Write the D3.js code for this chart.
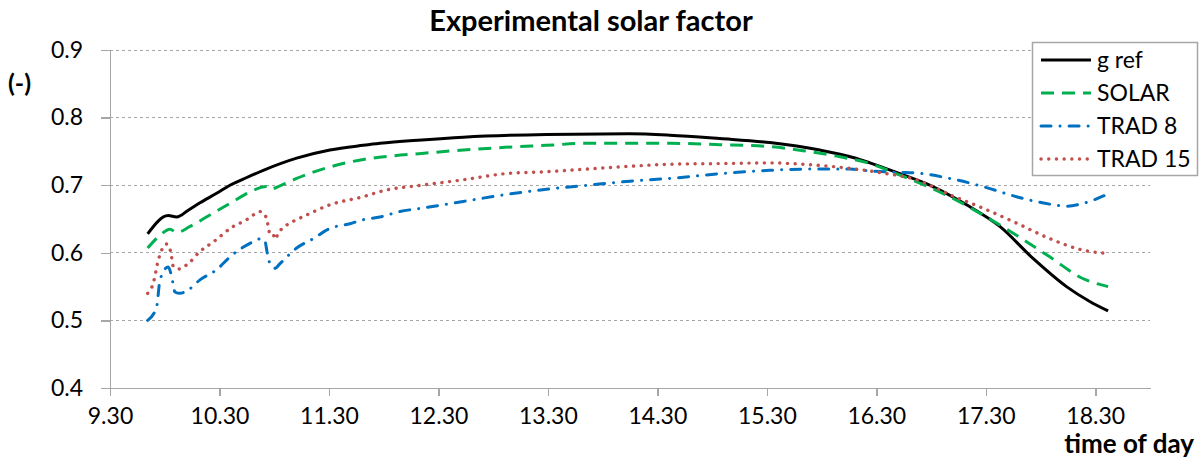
<!DOCTYPE html>
<html>
<head>
<meta charset="utf-8">
<script src="https://cdn.jsdelivr.net/npm/d3@7"></script>
<style>
  body { margin: 0; background: #fff; }
  svg { display: block; font-family: Lato, "Open Sans", sans-serif; }
</style>
</head>
<body>
<div id="chart"></div>
<script>
// Experimental solar factor - line chart
// times are decimal hours (9.5 = 9:30)
const xTicks = [9.5, 10.5, 11.5, 12.5, 13.5, 14.5, 15.5, 16.5, 17.5, 18.5];
const xTickLabels = ["9.30", "10.30", "11.30", "12.30", "13.30", "14.30", "15.30", "16.30", "17.30", "18.30"];
const yTicks = [0.4, 0.5, 0.6, 0.7, 0.8, 0.9];

const gRef = [
    [9.844, 0.628], [10.032, 0.655], [10.109, 0.653], [10.215, 0.663], [10.322, 0.674],
    [10.474, 0.688], [10.596, 0.700], [10.717, 0.709], [10.900, 0.722], [11.205, 0.740],
    [11.509, 0.752], [11.813, 0.759], [11.966, 0.762], [12.347, 0.767], [12.727, 0.771],
    [13.488, 0.775], [14.249, 0.776], [14.614, 0.774], [15.071, 0.769], [15.527, 0.763],
    [15.984, 0.752], [16.288, 0.741], [16.441, 0.733], [16.715, 0.717], [17.016, 0.698],
    [17.324, 0.671], [17.628, 0.639], [17.929, 0.592], [18.237, 0.550], [18.450, 0.528],
    [18.617, 0.514]
];
const solar = [
    [9.844, 0.607], [9.957, 0.626], [10.048, 0.635], [10.109, 0.630], [10.231, 0.639],
    [10.413, 0.656], [10.626, 0.676], [10.779, 0.690], [10.931, 0.698], [10.961, 0.694],
    [11.053, 0.699], [11.205, 0.710], [11.509, 0.727], [11.813, 0.738], [12.057, 0.743],
    [12.347, 0.747], [12.727, 0.752], [13.107, 0.756], [13.488, 0.759], [13.868, 0.762],
    [14.249, 0.762], [14.614, 0.762], [15.071, 0.760], [15.527, 0.757], [15.832, 0.751],
    [16.137, 0.743], [16.441, 0.732], [16.715, 0.715], [17.171, 0.683], [17.473, 0.656],
    [17.780, 0.626], [18.084, 0.594], [18.386, 0.562], [18.617, 0.550]
];
const trad8 = [
    [9.844, 0.500], [9.926, 0.520], [9.957, 0.560], [10.032, 0.579], [10.063, 0.565],
    [10.094, 0.542], [10.139, 0.540], [10.215, 0.545], [10.322, 0.560], [10.474, 0.575],
    [10.596, 0.594], [10.779, 0.614], [10.885, 0.621], [10.916, 0.617], [10.937, 0.599],
    [10.961, 0.584], [11.007, 0.577], [11.053, 0.584], [11.205, 0.607], [11.357, 0.621],
    [11.509, 0.636], [11.692, 0.643], [11.813, 0.649], [11.966, 0.653], [12.148, 0.661],
    [12.347, 0.666], [12.727, 0.676], [13.107, 0.686], [13.488, 0.694], [13.868, 0.700],
    [14.249, 0.706], [14.614, 0.710], [15.071, 0.717], [15.527, 0.722], [15.984, 0.724],
    [16.258, 0.724], [16.441, 0.721], [16.715, 0.719], [16.867, 0.718], [17.171, 0.710],
    [17.473, 0.698], [17.780, 0.683], [18.084, 0.672], [18.237, 0.669], [18.386, 0.673],
    [18.617, 0.687]
];
const trad15 = [
    [9.844, 0.540], [9.895, 0.555], [9.941, 0.589], [9.972, 0.604], [10.018, 0.613],
    [10.054, 0.602], [10.078, 0.580], [10.124, 0.576], [10.215, 0.584], [10.322, 0.602],
    [10.443, 0.616], [10.626, 0.639], [10.748, 0.649], [10.809, 0.656], [10.870, 0.661],
    [10.916, 0.656], [10.946, 0.639], [10.961, 0.627], [10.991, 0.627], [11.007, 0.620],
    [11.037, 0.629], [11.114, 0.641], [11.205, 0.649], [11.296, 0.656], [11.509, 0.671],
    [11.813, 0.683], [12.000, 0.692], [12.347, 0.700], [12.727, 0.708], [13.107, 0.717],
    [13.488, 0.720], [13.868, 0.724], [14.249, 0.728], [14.614, 0.731], [15.071, 0.732],
    [15.527, 0.733], [15.832, 0.731], [16.137, 0.727], [16.441, 0.721], [16.559, 0.718],
    [16.867, 0.708], [17.171, 0.686], [17.473, 0.666], [17.780, 0.644], [18.084, 0.621],
    [18.386, 0.604], [18.617, 0.599]
];

const seriesNames = ["g ref", "SOLAR", "TRAD 8", "TRAD 15"];
const seriesData = [gRef, solar, trad8, trad15];

const styles = [
    { color: "#000000", width: 3, dash: null, cap: "butt" },
    { color: "#00b050", width: 3, dash: "13,8", cap: "butt" },
    { color: "#0070c0", width: 3, dash: "10,9,0.1,9", cap: "round" },
    { color: "#c0504d", width: 3.4, dash: "0.1,7.6", cap: "round" }
];

const svgWidth = 1199, svgHeight = 461;
const fontSize = 23;
const axisColor = "#a6a6a6";

const svg = d3.select("#chart")
    .append("svg")
    .attr("width", svgWidth)
    .attr("height", svgHeight);

const xScale = d3.scaleLinear().domain([9.5, 19]).range([110, 1150]);
const yScale = d3.scaleLinear().domain([0.4, 0.9]).range([388, 50]);

// grid lines
svg.append("g")
    .selectAll("line")
    .data(yTicks.filter(d => d > 0.4))
    .enter()
    .append("line")
    .attr("x1", xScale(9.5))
    .attr("x2", xScale(19))
    .attr("y1", d => yScale(d))
    .attr("y2", d => yScale(d))
    .attr("stroke", "#a6a6a6")
    .attr("stroke-width", 1)
    .attr("stroke-dasharray", "3,3")
    .attr("shape-rendering", "crispEdges");

// y axis
const yAxis = svg.append("g")
    .attr("transform", `translate(${xScale(9.5)},0)`)
    .call(d3.axisLeft(yScale)
        .tickValues(yTicks)
        .tickSizeInner(9)
        .tickSizeOuter(0)
        .tickPadding(18)
        .tickFormat(d3.format(".1f")));

// x axis
const xAxis = svg.append("g")
    .attr("transform", `translate(0,${yScale(0.4)})`)
    .call(d3.axisBottom(xScale)
        .tickValues(xTicks)
        .tickSizeInner(8)
        .tickSizeOuter(0)
        .tickPadding(12)
        .tickFormat((d, i) => xTickLabels[i]));

[xAxis, yAxis].forEach(ax => {
    ax.selectAll("path, line")
        .attr("stroke", axisColor)
        .attr("stroke-width", 1.5)
        .attr("shape-rendering", "crispEdges");
    ax.selectAll("text")
        .attr("font-size", fontSize + "px")
        .attr("font-family", "Lato, sans-serif")
        .attr("fill", "#000");
});

// lines
const line = d3.line()
    .x(d => xScale(d[0]))
    .y(d => yScale(d[1]))
    .curve(d3.curveMonotoneX);

seriesData.forEach((data, i) => {
    const s = styles[i];
    svg.append("path")
        .datum(data)
        .attr("d", line)
        .attr("fill", "none")
        .attr("stroke", s.color)
        .attr("stroke-width", s.width)
        .attr("stroke-linecap", s.cap)
        .attr("stroke-linejoin", "round")
        .attr("stroke-dasharray", s.dash);
});

// title
svg.append("text")
    .attr("x", 591)
    .attr("y", 31)
    .attr("text-anchor", "middle")
    .attr("font-size", "29px")
    .attr("font-weight", "bold")
    .text("Experimental solar factor");

// y axis unit
svg.append("text")
    .attr("x", 8)
    .attr("y", 92)
    .attr("font-size", "25px")
    .attr("font-weight", "bold")
    .text("(-)");

// x axis title
svg.append("text")
    .attr("x", 1194)
    .attr("y", 453)
    .attr("text-anchor", "end")
    .attr("font-size", "26px")
    .attr("font-weight", "bold")
    .text("time of day");

// legend
const legend = svg.append("g");
legend.append("rect")
    .attr("x", 1032.5)
    .attr("y", 42.5)
    .attr("width", 165)
    .attr("height", 133)
    .attr("fill", "#fff")
    .attr("stroke", axisColor)
    .attr("stroke-width", 1.5);

const legendY = [60, 93, 126, 159];
seriesNames.forEach((name, i) => {
    const s = styles[i];
    legend.append("line")
        .attr("x1", 1041)
        .attr("x2", 1091)
        .attr("y1", legendY[i])
        .attr("y2", legendY[i])
        .attr("stroke", s.color)
        .attr("stroke-width", s.width)
        .attr("stroke-linecap", s.cap)
        .attr("stroke-dasharray", s.dash);
    legend.append("text")
        .attr("x", 1097)
        .attr("y", legendY[i])
        .attr("dy", "0.35em")
        .attr("font-size", fontSize + "px")
        .text(name);
});
</script>
</body>
</html>
